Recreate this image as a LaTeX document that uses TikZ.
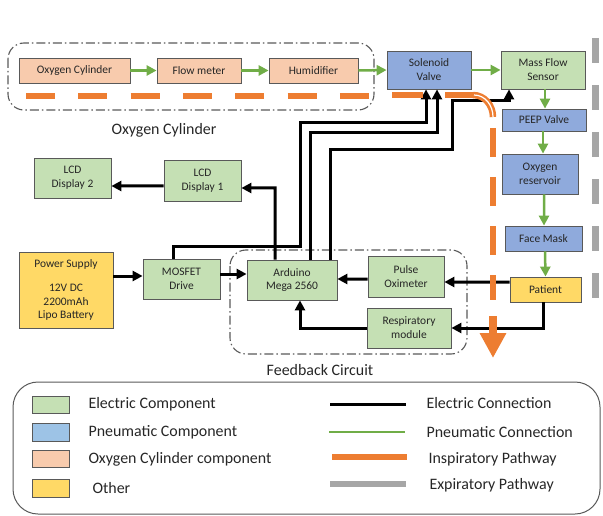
\documentclass[tikz,border=0pt]{standalone}
\usepackage{fontspec}
\setmainfont{Carlito}
\usetikzlibrary{arrows.meta,calc}
\definecolor{elecfill}{HTML}{C5E0B4}
\definecolor{pneufill}{HTML}{8FAADC}
\definecolor{legblue}{HTML}{9DC3E6}
\definecolor{cylfill}{HTML}{F8CBAD}
\definecolor{othfill}{HTML}{FFD966}
\definecolor{boxline}{HTML}{595959}
\definecolor{txt}{HTML}{262626}
\definecolor{greenline}{HTML}{70AD47}
\definecolor{orangeline}{HTML}{ED7D31}
\definecolor{grayline}{HTML}{A6A6A6}
\definecolor{groupline}{HTML}{595959}
\begin{document}
\begin{tikzpicture}[x=1bp,y=-1bp,
  comp/.style={draw=boxline, line width=0.8bp, align=center, inner sep=1bp, text=txt,
    font=\fontsize{11.5}{14}\selectfont},
  elec/.style={comp, fill=elecfill},
  pneu/.style={comp, fill=pneufill},
  cyl/.style={comp, fill=cylfill},
  oth/.style={comp, fill=othfill},
  ewire/.style={line width=3bp, black, -{Triangle[length=10bp,width=10bp]}},
  pwire/.style={line width=2.5bp, greenline, -{Triangle[length=10bp,width=10bp]}},
  insp/.style={line width=6.5bp, orangeline},
  expi/.style={line width=7bp, grayline},
  grp/.style={groupline, line width=1.1bp, rounded corners=16bp,
    dash pattern=on 9bp off 3bp on 1.5bp off 3bp},
  lbl/.style={text=txt, font=\fontsize{16}{19}\selectfont},
  legtxt/.style={text=txt, font=\fontsize{16}{19}\selectfont, anchor=west},
  swatch/.style={draw=boxline, line width=0.8bp}
]
\useasboundingbox (0,0) rectangle (603,516);

% group boxes
\draw[grp] (8,43) rectangle (374,110);
\draw[grp] (230,250) rectangle (467,354);
\node[lbl] (oclbl) at (164,130) {Oxygen Cylinder};
\node[lbl] (fblbl) at (320,370) {Feedback Circuit};

% components
\node[cyl, minimum width=111bp, minimum height=25bp] (ocyl) at (74.5,70.5) {Oxygen Cylinder};
\node[cyl, minimum width=84bp, minimum height=25bp] (flow) at (199,70.5) {Flow meter};
\node[cyl, minimum width=89bp, minimum height=25bp] (humid) at (313.5,70.5) {Humidifier};
\node[pneu, minimum width=84bp, minimum height=38bp] (sol) at (429,70) {Solenoid\\Valve};
\node[elec, minimum width=84bp, minimum height=38bp] (mfs) at (543,70) {Mass Flow\\Sensor};
\node[pneu, minimum width=84bp, minimum height=22bp] (peep) at (544,120) {PEEP Valve};
\node[pneu, minimum width=76bp, minimum height=40bp] (oxres) at (540,174) {Oxygen\\reservoir};
\node[pneu, minimum width=77bp, minimum height=25bp] (mask) at (543.5,238.5) {Face Mask};
\node[oth, minimum width=71bp, minimum height=25bp] (patient) at (545.5,289.5) {Patient};
\node[elec, minimum width=77bp, minimum height=40bp] (lcd2) at (72.5,178) {LCD\\Display 2};
\node[elec, minimum width=77bp, minimum height=41bp] (lcd1) at (202.5,180.5) {LCD\\Display 1};
\node[oth, minimum width=94bp, minimum height=76bp] (power) at (66,290) {Power Supply\\[10bp]12V DC\\2200mAh\\Lipo Battery};
\node[elec, minimum width=77bp, minimum height=40bp] (mosfet) at (181.5,279) {MOSFET\\Drive};
\node[elec, minimum width=90bp, minimum height=40bp] (ard) at (292,280) {Arduino\\Mega 2560};
\node[elec, minimum width=76bp, minimum height=41bp] (pulse) at (406,276.5) {Pulse\\Oximeter};
\node[elec, minimum width=84bp, minimum height=40bp] (resp) at (409,328) {Respiratory\\module};

% pneumatic connections
\draw[pwire] (ocyl.east) -- (flow.west);
\draw[pwire] (flow.east) -- (humid.west);
\draw[pwire] (humid.east) -- (sol.west);
\draw[pwire] (sol.east) -- (mfs.west);
\draw[pwire] ($(mfs.south)+(2,0)$) -- ($(peep.north)+(1,0)$);
\draw[pwire] ($(peep.south)+(-1,0)$) -- ($(oxres.north)+(3,0)$);
\draw[pwire] ($(oxres.south)+(4,0)$) -- ($(mask.north)+(0.5,0)$);
\draw[pwire] ($(mask.south)+(1.5,0)$) -- (patient.north);

% electric connections
\draw[ewire] ($(power.east)+(0,-14)$) -- ($(mosfet.west)+(0,-3)$);
\draw[ewire] ($(mosfet.east)+(0,-5)$) -- ($(ard.west)+(0,-6)$);
\draw[ewire] ($(lcd1.west)+(0,5.5)$) -- ($(lcd2.east)+(0,8)$);
\draw[ewire] ($(ard.north)+(-17,0)$) -- (275,188) -- ($(lcd1.east)+(0,7.5)$);
\draw[ewire] ($(mosfet.north)+(-8.5,0)$) -- (173,246) -- (300,246) -- (300,123) -- (426,123) -- ($(sol.south)+(-3,0)$);
\draw[ewire] ($(ard.north)+(18,0)$) -- (310,133) -- (437,133) -- ($(sol.south)+(8,0)$);
\draw[ewire] ($(ard.north)+(38,0)$) -- (330,150) -- (452,150) -- (452,101) -- (509,101) -- ($(mfs.south)+(-34,0)$);
\draw[ewire] ($(pulse.west)+(0,2.5)$) -- ($(ard.east)+(0,-1)$);
\draw[ewire] ($(patient.west)+(0,-7.5)$) -- ($(pulse.east)+(0,5.5)$);
\draw[ewire] ($(patient.south)+(-2.5,0)$) -- (543,328) -- (resp.east);
\draw[ewire] (resp.west) -- (300,328) -- ($(ard.south)+(8,0)$);

% inspiratory pathway
\draw[insp, dash pattern=on 29bp off 23.3bp] (26,96) -- (369,96);
\draw[insp] (392,95) -- (423,95);
\draw[insp] (445,95) -- (474,95);
\draw[insp] (473,95) to[out=0,in=90] (493,117);
\draw[white, line width=1.2bp] (474,95) to[out=0,in=90] (493,117);
\draw[insp, dash pattern=on 29bp off 20bp] (493,128) -- (493,300);
\draw[insp, line width=7.5bp, -{Triangle[length=25bp,width=25bp]}] (493,316) -- (493,358);

% expiratory pathway
\draw[expi, dash pattern=on 25bp off 22bp] (595,38) -- (595,298);

% legend
\draw[boxline, line width=1bp, rounded corners=25bp] (13,382) rectangle (600,514);
\draw[swatch, fill=elecfill] (32,396) rectangle (69,413);
\draw[swatch, fill=legblue] (32,423) rectangle (69,441);
\draw[swatch, fill=cylfill] (32,450) rectangle (69,467);
\draw[swatch, fill=othfill] (32,479) rectangle (69,497);
\node[legtxt] (l1) at (85,404) {Electric Component};
\node[legtxt] (l2) at (85,432) {Pneumatic Component};
\node[legtxt] (l3) at (85,459) {Oxygen Cylinder component};
\node[legtxt] (l4) at (89,488) {Other};
\draw[black, line width=3bp] (330,404) -- (406,404);
\draw[greenline, line width=2.5bp] (329,432) -- (405,432);
\draw[orangeline, line width=6bp] (332,457) -- (407,457);
\draw[grayline, line width=6bp] (330,484) -- (406,484);
\node[legtxt] (r1) at (423,403) {Electric Connection};
\node[legtxt] (r2) at (423,432) {Pneumatic Connection};
\node[legtxt] (r3) at (425,459) {Inspiratory Pathway};
\node[legtxt] (r4) at (426,485) {Expiratory Pathway};
\end{tikzpicture}
\end{document}
